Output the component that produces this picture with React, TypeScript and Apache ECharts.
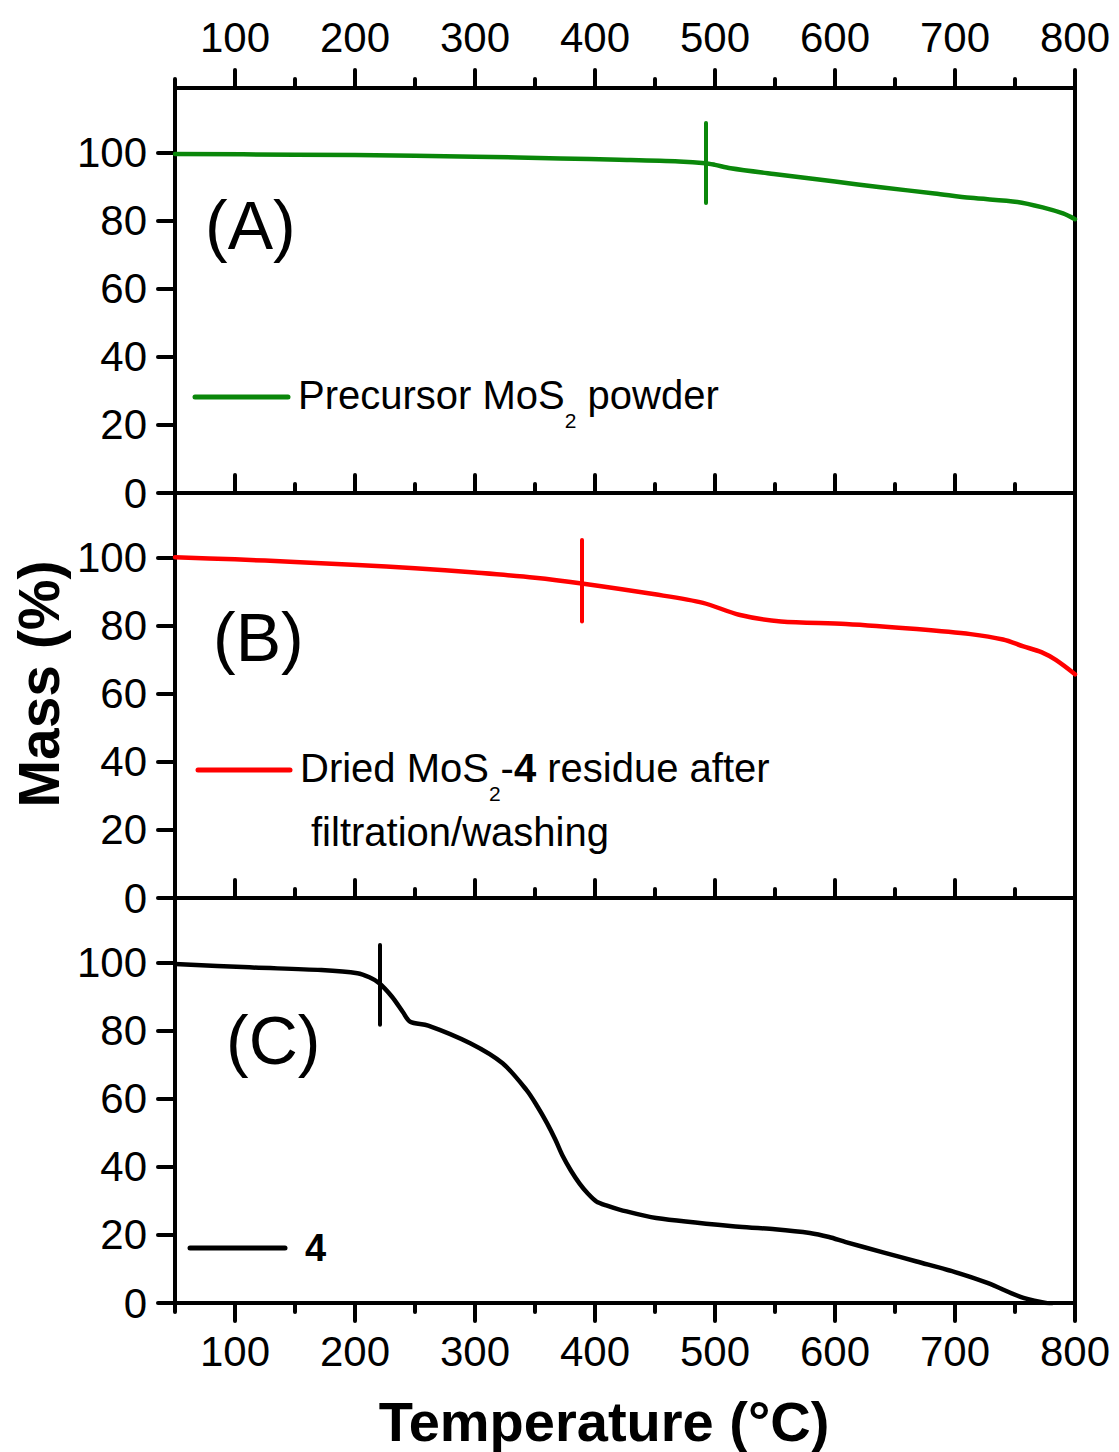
import React, { useEffect, useRef } from "react";
import * as echarts from "echarts";

// ---- tick labels ----
const temperatureTicks = [100, 200, 300, 400, 500, 600, 700, 800];
const temperatureMinorTicks = [50, 150, 250, 350, 450, 550, 650, 750];
const massTicks = [0, 20, 40, 60, 80, 100];

// ---- (A) Precursor MoS2 powder ----
const precursorTemp = [50, 150, 250, 300, 371, 420, 470, 492, 500, 513, 549, 600, 638, 683, 713, 752, 773, 790, 800];
const precursorMass = [99.7, 99.5, 99.2, 98.9, 98.4, 98.0, 97.5, 97.0, 96.5, 95.5, 93.8, 91.6, 89.9, 88.1, 86.8, 85.6, 84.0, 82.2, 80.5];

// ---- (B) Dried MoS2-4 residue after filtration/washing ----
const residueTemp = [50, 100, 150, 202, 250, 300, 350, 389, 450, 490, 520, 555, 609, 668, 713, 740, 757, 772, 784, 800];
const residueMass = [100.2, 99.6, 98.8, 97.9, 97.0, 95.7, 94.2, 92.5, 89.3, 86.8, 83.3, 81.3, 80.6, 79.1, 77.6, 76.0, 74.0, 72.3, 70.0, 65.8];

// ---- (C) compound 4 ----
const compoundTemp = [50, 112, 172, 202, 212, 220, 231, 240, 246, 261, 296, 323, 343, 352, 360, 367, 373, 380, 387, 394, 401, 410, 421, 451, 520, 550, 579, 595, 609, 640, 668, 700, 727, 757, 780];
const compoundMass = [99.7, 98.7, 97.9, 97.0, 95.8, 94.1, 90.0, 85.5, 82.7, 81.6, 76.4, 70.5, 62.6, 57.8, 52.9, 48.0, 43.3, 38.9, 35.2, 32.2, 29.9, 28.6, 27.4, 25.0, 22.4, 21.7, 20.6, 19.4, 17.9, 14.9, 12.2, 9.1, 5.9, 1.5, -0.3];

// ---- vertical marker segments (temperature, top mass, bottom mass) ----
const markerTemps = [492, 389, 220.5];
const markerTop = [108.8, 105.3, 105.3];
const markerBottom = [85.3, 81.3, 81.8];

const seriesNames = ["Precursor MoS2 powder", "Dried MoS2-4 residue after filtration/washing", "4"];
const seriesColors = ["#0a870a", "#ff0000", "#000000"];
const panelLabels = ["(A)", "(B)", "(C)"];

const FONT = '"Liberation Sans", Arial, sans-serif';

function zip(xs: number[], ys: number[]) {
  return xs.map((x, i) => [x, ys[i]]);
}

function buildOption() {
  const gridTops = [88, 493, 898];
  const grids = gridTops.map((top) => ({ left: 175, right: 44, top, height: 405, containLabel: false }));
  const axisLineStyle = { color: "#000", width: 4, cap: "round" };
  const tickLineStyle = { color: "#000", width: 4, cap: "round" };
  const labelStyle = { fontSize: 42, color: "#000", fontFamily: FONT };

  const xAxes: any[] = [];
  const seriesXIndex: number[] = [];
  for (let g = 0; g < 3; g++) {
    seriesXIndex.push(xAxes.length);
    xAxes.push({
      gridIndex: g, type: "value", position: "top", min: 50, max: 800,
      axisLine: { show: true, onZero: false, lineStyle: axisLineStyle },
      axisTick: { show: true, inside: false, length: 18, customValues: temperatureTicks, lineStyle: tickLineStyle },
      axisLabel: { show: g === 0, customValues: temperatureTicks, margin: 30, ...labelStyle },
      splitLine: { show: false },
    });
    xAxes.push({
      gridIndex: g, type: "value", position: "top", min: 50, max: 800,
      axisLine: { show: false, onZero: false },
      axisTick: { show: true, inside: false, length: 9, customValues: temperatureMinorTicks, lineStyle: tickLineStyle },
      axisLabel: { show: false },
      splitLine: { show: false },
    });
    xAxes.push({
      gridIndex: g, type: "value", position: "bottom", min: 50, max: 800,
      axisLine: { show: true, onZero: false, lineStyle: axisLineStyle },
      axisTick: { show: g === 2, inside: false, length: 18, customValues: temperatureTicks, lineStyle: tickLineStyle },
      axisLabel: { show: g === 2, customValues: temperatureTicks, margin: 27, ...labelStyle },
      splitLine: { show: false },
    });
    if (g === 2) {
      xAxes.push({
        gridIndex: g, type: "value", position: "bottom", min: 50, max: 800,
        axisLine: { show: false, onZero: false },
        axisTick: { show: true, inside: false, length: 9, customValues: temperatureMinorTicks, lineStyle: tickLineStyle },
        axisLabel: { show: false },
        splitLine: { show: false },
      });
    }
  }

  const yAxes: any[] = [];
  const seriesYIndex: number[] = [];
  for (let g = 0; g < 3; g++) {
    seriesYIndex.push(yAxes.length);
    yAxes.push({
      gridIndex: g, type: "value", position: "left", min: 0, max: 119.1,
      axisLine: { show: true, onZero: false, lineStyle: axisLineStyle },
      axisTick: { show: true, inside: false, length: 17, customValues: massTicks, lineStyle: tickLineStyle },
      axisLabel: { show: true, customValues: massTicks, margin: 28, ...labelStyle },
      splitLine: { show: false },
    });
    yAxes.push({
      gridIndex: g, type: "value", position: "right", min: 0, max: 119.1,
      axisLine: { show: true, onZero: false, lineStyle: axisLineStyle },
      axisTick: { show: false },
      axisLabel: { show: false },
      splitLine: { show: false },
    });
  }

  const datasets = [zip(precursorTemp, precursorMass), zip(residueTemp, residueMass), zip(compoundTemp, compoundMass)];
  const series = datasets.map((data, g) => ({
    name: seriesNames[g],
    type: "line",
    xAxisIndex: seriesXIndex[g],
    yAxisIndex: seriesYIndex[g],
    data,
    showSymbol: false,
    symbol: "none",
    smooth: 0.3,
    lineStyle: { color: seriesColors[g], width: 4.5, cap: "round", join: "round" },
    itemStyle: { color: seriesColors[g] },
    markLine: {
      silent: true,
      symbol: ["none", "none"],
      label: { show: false },
      lineStyle: { color: seriesColors[g], width: 4, type: "solid", cap: "round" },
      data: [[{ coord: [markerTemps[g], markerTop[g]] }, { coord: [markerTemps[g], markerBottom[g]] }]],
    },
  }));

  const richBase = { fontSize: 40, lineHeight: 44, verticalAlign: "top", fontFamily: FONT, fill: "#000" };
  const richSub = { fontSize: 21, lineHeight: 21, padding: [35, 0, 0, 0], verticalAlign: "top", fontFamily: FONT, fill: "#000" };
  const richBold = { ...richBase, fontWeight: "bold" };

  const panelLabelPos = [[205, 225], [213, 637], [226, 1040]];
  const graphic: any[] = [];
  panelLabels.forEach((t, g) => {
    graphic.push({
      type: "text", x: panelLabelPos[g][0], y: panelLabelPos[g][1],
      style: { text: t, fontSize: 68, fontFamily: FONT, fill: "#000", verticalAlign: "middle" },
    });
  });
  const legendLines = [[195, 288, 397], [198, 290, 770], [190, 285, 1248]];
  legendLines.forEach(([x1, x2, y], g) => {
    graphic.push({
      type: "line", shape: { x1, y1: y, x2, y2: y },
      style: { stroke: seriesColors[g], lineWidth: 5, lineCap: "round" },
    });
  });
  graphic.push({
    type: "text", x: 298, y: 397 - 22,
    style: {
      text: "{t|Precursor MoS}{s|2}{t| powder}",
      verticalAlign: "top", fontFamily: FONT, fontSize: 40, fill: "#000",
      rich: { t: richBase, s: richSub },
    },
  });
  graphic.push({
    type: "text", x: 300, y: 770 - 22,
    style: {
      text: "{t|Dried MoS}{s|2}{t|-}{b|4}{t| residue after}",
      verticalAlign: "top", fontFamily: FONT, fontSize: 40, fill: "#000",
      rich: { t: richBase, s: richSub, b: richBold },
    },
  });
  graphic.push({
    type: "text", x: 311, y: 832,
    style: { text: "filtration/washing", fontSize: 40, fontFamily: FONT, fill: "#000", verticalAlign: "middle" },
  });
  graphic.push({
    type: "text", x: 305, y: 1248,
    style: { text: "4", fontSize: 38, fontWeight: "bold", fontFamily: FONT, fill: "#000", verticalAlign: "middle" },
  });
  // axis titles
  graphic.push({
    type: "text", x: 39, y: 684, rotation: Math.PI / 2,
    style: { text: "Mass (%)", fontSize: 57, fontWeight: "bold", fontFamily: FONT, fill: "#000", align: "center", verticalAlign: "middle" },
  });
  graphic.push({
    type: "text", x: 604, y: 1421,
    style: { text: "Temperature (°C)", fontSize: 56, fontWeight: "bold", fontFamily: FONT, fill: "#000", align: "center", verticalAlign: "middle" },
  });

  return {
    animation: false,
    backgroundColor: "#ffffff",
    textStyle: { fontFamily: FONT },
    grid: grids,
    xAxis: xAxes,
    yAxis: yAxes,
    series,
    graphic,
  };
}

export default function App() {
  const ref = useRef<HTMLDivElement>(null);
  useEffect(() => {
    if (!ref.current) return;
    const chart = echarts.init(ref.current, null, { renderer: "svg" });
    chart.setOption(buildOption() as any);
    return () => chart.dispose();
  }, []);
  return (
    <div
      ref={ref}
      style={{ position: "fixed", left: 0, top: 0, width: 1119, height: 1452, background: "#fff" }}
    />
  );
}
